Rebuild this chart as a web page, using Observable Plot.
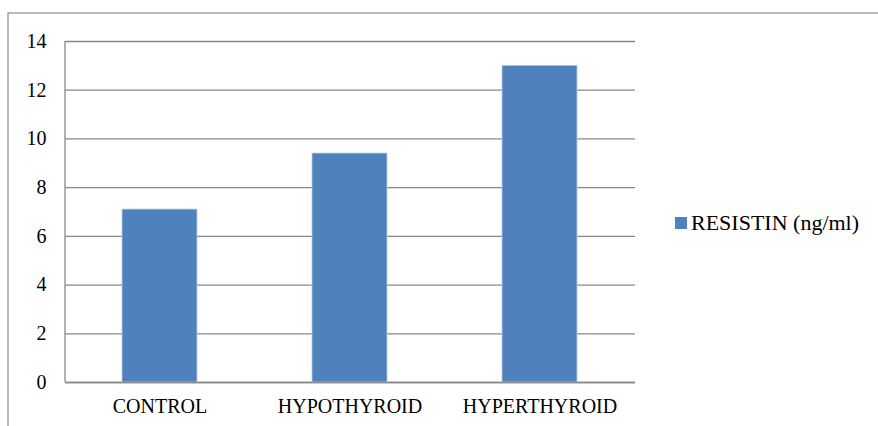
<!DOCTYPE html>
<html>
<head>
<meta charset="utf-8">
<script src="https://cdn.jsdelivr.net/npm/d3@7"></script>
<script src="https://cdn.jsdelivr.net/npm/@observablehq/plot@0.6"></script>
<style>
html, body { margin: 0; padding: 0; background: #fff; }
#chart { position: relative; width: 878px; height: 426px; }
#chart svg text { font-family: 'Liberation Serif', 'Times New Roman', serif !important; fill: #000; }
</style>
</head>
<body>
<div id="chart"></div>
<script>
const categories = ["CONTROL", "HYPOTHYROID", "HYPERTHYROID"];
const values = [7.1, 9.4, 13.0];
const yTicks = [0, 2, 4, 6, 8, 10, 12, 14];
const seriesName = "RESISTIN (ng/ml)";

const data = categories.map((c, i) => ({category: c, value: values[i]}));
const font = "'Liberation Serif', 'Times New Roman', serif";

const plot = Plot.plot({
  width: 878,
  height: 426,
  marginLeft: 65,
  marginRight: 243,
  marginTop: 41,
  marginBottom: 44,
  style: {fontFamily: font, fontSize: "20px", color: "#000", background: "#fff"},
  x: {domain: categories, paddingInner: 0.605, paddingOuter: 0.3025, label: null},
  y: {domain: [0, 14], label: null},
  marks: [
    Plot.gridY(yTicks, {stroke: "#888", strokeOpacity: 1, strokeWidth: 1.3}),
    Plot.barY(data, {x: "category", y: "value", fill: "#4F81BD", stroke: "#B9CDE5", strokeWidth: 0.8}),
    Plot.axisX({tickSize: 0, tickPadding: 16, fontSize: 20, label: null}),
    Plot.axisY({ticks: yTicks, tickSize: 0, tickPadding: 19, fontSize: 20, label: null}),
    Plot.ruleY([0], {stroke: "#888", strokeWidth: 1.3})
  ]
});

document.getElementById("chart").appendChild(plot);

const svg = d3.select(plot);
// left axis line
svg.append("line")
  .attr("x1", 65).attr("x2", 65).attr("y1", 41).attr("y2", 382)
  .attr("stroke", "#888").attr("stroke-width", 1.3);
// outer border
svg.append("rect")
  .attr("x", 8).attr("y", 13).attr("width", 900).attr("height", 500)
  .attr("fill", "none").attr("stroke", "#8c8c8c").attr("stroke-width", 1.2);
// legend
const lg = svg.append("g").attr("transform", "translate(675,217)");
lg.append("rect").attr("width", 12).attr("height", 12).attr("fill", "#4F81BD");
lg.append("text").attr("x", 16).attr("y", 13)
  .attr("text-anchor", "start")
  .attr("font-family", font).attr("font-size", 22).attr("fill", "#000")
  .text(seriesName);
</script>
</body>
</html>
